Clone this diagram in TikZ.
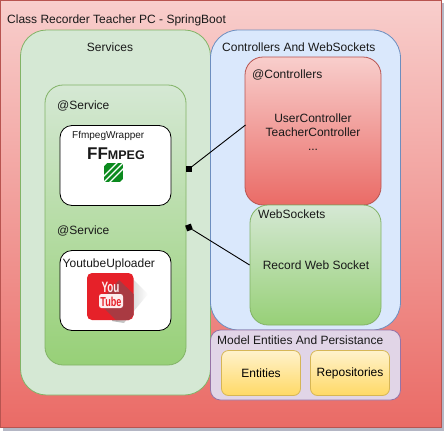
\documentclass[tikz,border=0pt]{standalone}
\usepackage{fontspec}
\setmainfont{Liberation Sans}
\usepackage{tikz}
\definecolor{redA}{HTML}{F8CECC}
\definecolor{redB}{HTML}{EA6B66}
\definecolor{redL}{HTML}{B85450}
\definecolor{grnA}{HTML}{D5E8D4}
\definecolor{grnB}{HTML}{97D077}
\definecolor{grnL}{HTML}{82B366}
\definecolor{bluA}{HTML}{DAE8FC}
\definecolor{bluL}{HTML}{6C8EBF}
\definecolor{purA}{HTML}{E1D5E7}
\definecolor{purL}{HTML}{9673A6}
\definecolor{yelA}{HTML}{FFF2CC}
\definecolor{yelB}{HTML}{FFD966}
\definecolor{yelL}{HTML}{D6B656}
\definecolor{ytred}{HTML}{E62129}
\definecolor{ytdark}{HTML}{A93A42}
\definecolor{ffgrn}{HTML}{0B8A1E}
\definecolor{shdw}{HTML}{B4B6C4}
\begin{document}
\begin{tikzpicture}[x=1pt,y=-1pt,font=\fontsize{12}{14}\selectfont,
    e/.style={draw,line width=.9pt},
    sq/.style={fill=black,inner sep=0pt,minimum size=6pt},
    box/.style={draw,inner sep=0pt,line width=.8pt},
    lbl/.style={inner sep=0pt,text=black!90},
    redbox/.style={box,draw=redL,top color=redA,bottom color=redB},
    grnbox/.style={box,draw=grnL,top color=grnA,bottom color=grnB},
    yelbox/.style={box,draw=yelL,top color=yelA,bottom color=yelB,rounded corners=7pt,minimum width=79pt,minimum height=45pt},
    wbox/.style={box,draw=black,fill=white,rounded corners=12pt,minimum width=111pt,minimum height=80pt}]
    \useasboundingbox (0,0) rectangle (447,434);
    % outer frame
    \fill[shdw] (3,3) rectangle (444,431);
    \node[redbox,minimum width=441pt,minimum height=427pt] (pc) at (220.5,213.5) {};
    \node[lbl,anchor=west] (pcT) at (7,20.5) {Class Recorder Teacher PC - SpringBoot};
    % services
    \node[box,draw=grnL,fill=grnA,rounded corners=26pt,minimum width=190pt,minimum height=365pt] (svc) at (115.5,212.5) {};
    \node[lbl] (svcT) at (110,47.5) {Services};
    \node[grnbox,rounded corners=18pt,minimum width=141pt,minimum height=280pt] (srv) at (115.5,225) {};
    \node[lbl,anchor=west] (srvA) at (57,106) {@Service};
    \node[lbl,anchor=west] (srvB) at (57,231) {@Service};
    \node[wbox] (ffm) at (115.5,165.5) {};
    \node[lbl,anchor=west,font=\fontsize{10}{12}\selectfont] (ffmT) at (72,136) {FfmpegWrapper};
    \node[wbox] (ytb) at (115.5,290.5) {};
    \node[lbl,anchor=west] (ytbT) at (62.5,264.5) {YoutubeUploader};
    % ffmpeg logo
    \node[lbl,anchor=base,font=\bfseries\fontsize{17}{17}\selectfont] (ffmL) at (116,159.5)
        {FF\fontsize{12.5}{12.5}\selectfont MPEG};
    \begin{scope}
        \clip (104,163) rectangle (123,182);
        \fill[ffgrn] (104,163) rectangle (123,182);
        \foreach \i in {-6,0,6}
            \draw[white,line width=1.4pt] (103.5+\i,182.5) -- (123.5+\i,162.5);
        \fill[white] (104,163) -- (107,163) -- (104,166) -- cycle;
        \fill[white] (123,182) -- (120,182) -- (123,179) -- cycle;
    \end{scope}
    % youtube logo
    \shade[left color=black!32,right color=white] (128,274) -- (148,294) -- (124,323) -- (112,321) -- cycle;
    \fill[ytred,rounded corners=5pt] (87,273) rectangle (133.5,320);
    \fill[ytdark] (119,280) -- (133.5,294) -- (133.5,315) -- (129,320) -- (116,320) -- (99,303) -- cycle;
    \node[lbl,text=white!92!ytred,font=\bfseries\fontsize{15}{15}\selectfont,xscale=.66] (ytbA) at (110.5,287.5) {You};
    \fill[white!92!ytred,rounded corners=2.5pt] (99,294) rectangle (123,308);
    \node[lbl,text=ytred,font=\bfseries\fontsize{13}{13}\selectfont,xscale=.7] (ytbB) at (111,301.5) {Tube};
    % controllers
    \node[box,draw=bluL,fill=bluA,rounded corners=28pt,minimum width=190pt,minimum height=300pt] (ctl) at (305.5,180) {};
    \node[lbl,anchor=west] (ctlT) at (222,47) {Controllers And WebSockets};
    \node[redbox,rounded corners=18pt,minimum width=136pt,minimum height=148pt] (cnt) at (313,131) {};
    \node[lbl,anchor=west] (cntT) at (252,75) {@Controllers};
    \node[lbl,align=center] (cntU) at (313,132.5) {UserController\\TeacherController\\...};
    \node[grnbox,rounded corners=18pt,minimum width=131pt,minimum height=120pt] (wsk) at (315.5,265) {};
    \node[lbl,anchor=west] (wskT) at (258,214) {WebSockets};
    \node[lbl] (wskU) at (316,265.5) {Record Web Socket};
    % model
    \node[box,draw=purL,fill=purA,rounded corners=10pt,minimum width=190pt,minimum height=70pt] (mdl) at (305.5,365) {};
    \node[lbl,anchor=west] (mdlT) at (217,340.5) {Model Entities And Persistance};
    \node[yelbox] (ent) at (261,373) {Entities};
    \node[yelbox] (rep) at (350,373) {Repositories};
    % connectors
    \coordinate (cntP) at (245.5,125);
    \node[sq] (ffmP) at (188.8,169) {};
    \node[sq,rotate=20] (ytbP) at (189,227.5) {};
    \draw[e] (cntP) -- (ffmP);
    \draw[e] (wsk.west) -- (ytbP);
\end{tikzpicture}
\end{document}
